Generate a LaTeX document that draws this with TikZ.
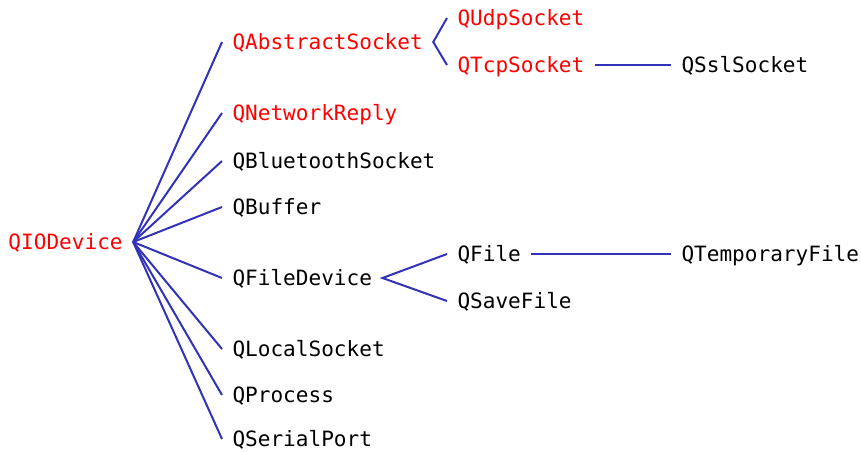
\documentclass[tikz,border=0pt]{standalone}
\usepackage{fontspec}
\setmonofont{DejaVu Sans Mono}

\definecolor{edgeblue}{RGB}{50,50,185}
\definecolor{abstred}{RGB}{255,0,0}

\tikzset{every picture/.style={line width=0.75pt}}
\tikzset{
  cls/.style={anchor=west, inner xsep=7.5pt, inner ysep=0pt, text height=11.5pt, text depth=0pt,
    font=\ttfamily\fontsize{15.8pt}{18pt}\selectfont},
  abst/.style={cls, text=abstred},
  inherit/.style={draw=edgeblue, line width=1.5pt},
}

\begin{document}
\begin{tikzpicture}[x=0.75pt,y=0.75pt,yscale=-1]
\useasboundingbox (0,0) rectangle (861,451);

% Root class
\node[abst] (iodev) at (-2,242) {QIODevice};

% Direct subclasses
\node[abst] (abssock) at (222,42) {QAbstractSocket};
\node[abst] (netreply) at (222,113) {QNetworkReply};
\node[cls] (btsock) at (222,161) {QBluetoothSocket};
\node[cls] (buffer) at (222,207) {QBuffer};
\node[cls] (filedev) at (222,278) {QFileDevice};
\node[cls] (locsock) at (222,349) {QLocalSocket};
\node[cls] (process) at (222,395) {QProcess};
\node[cls] (serport) at (222,439) {QSerialPort};

% Sockets
\node[abst] (udpsock) at (447,18) {QUdpSocket};
\node[abst] (tcpsock) at (447,65) {QTcpSocket};
\node[cls] (sslsock) at (671,65) {QSslSocket};

% Files
\node[cls] (file) at (447,254) {QFile};
\node[cls] (savefile) at (447,301) {QSaveFile};
\node[cls] (tmpfile) at (671,254) {QTemporaryFile};

% Edges
\foreach \child in {abssock,netreply,btsock,buffer,filedev,locsock,process,serport}
  \draw[inherit] (iodev.east) -- (\child.west);
\draw[inherit] (udpsock.west) -- (abssock.east) -- (tcpsock.west);
\draw[inherit] (tcpsock.east) -- (sslsock.west);
\draw[inherit] (file.west) -- (filedev.east) -- (savefile.west);
\draw[inherit] (file.east) -- (tmpfile.west);

\end{tikzpicture}
\end{document}
